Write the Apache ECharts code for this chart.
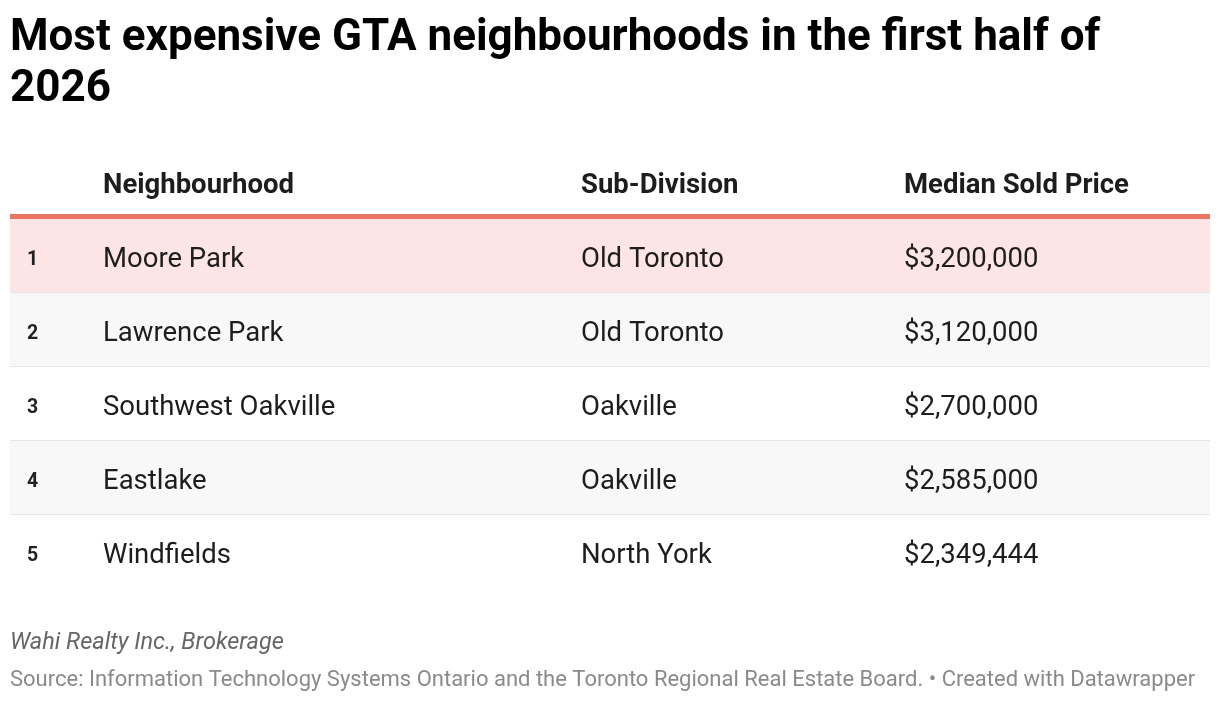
<!DOCTYPE html>
<html>
<head>
<meta charset="utf-8">
<script src="https://cdn.jsdelivr.net/npm/echarts@6/dist/echarts.min.js"></script>
<style>
  html, body { margin: 0; padding: 0; background: #fff; }
  #main { width: 1220px; height: 702px; }
</style>
</head>
<body>
<div id="main"></div>
<script>
var ranks = ['1', '2', '3', '4', '5'];
var neighbourhoods = ['Moore Park', 'Lawrence Park', 'Southwest Oakville', 'Eastlake', 'Windfields'];
var subDivisions = ['Old Toronto', 'Old Toronto', 'Oakville', 'Oakville', 'North York'];
var prices = ['$3,200,000', '$3,120,000', '$2,700,000', '$2,585,000', '$2,349,444'];
var headers = ['Neighbourhood', 'Sub-Division', 'Median Sold Price'];

var font = 'Roboto, "Noto Sans", sans-serif';
// column x positions in axis units (grid starts at x=10)
var colX = [17, 93, 571, 894];

var chart = echarts.init(document.getElementById('main'));

function rowColor(i) {
    if (i === 0) return '#fce5e4';       // highlighted top row
    return i % 2 === 1 ? '#f8f8f8' : '#ffffff';
}

var option = {
    animation: false,
    grid: { left: 10, right: 10, top: 219, height: 370 },
    xAxis: { type: 'value', min: 0, max: 1200, show: false },
    yAxis: { type: 'category', data: ranks, inverse: true, show: false },
    graphic: [
        { type: 'text', left: 10, top: 13, style: { text: 'Most expensive GTA neighbourhoods in the first half of\n2026', font: 'bold 44px ' + font, lineHeight: 51, fill: '#000' } },
        { type: 'rect', shape: { x: 10, y: 214, width: 1200, height: 5 }, style: { fill: '#ec7463' } },
        { type: 'text', x: 10 + colX[1], y: 186, style: { text: headers[0], font: 'bold 27.5px ' + font, fill: '#1d1d1d', verticalAlign: 'middle' } },
        { type: 'text', x: 10 + colX[2], y: 186, style: { text: headers[1], font: 'bold 27.5px ' + font, fill: '#1d1d1d', verticalAlign: 'middle' } },
        { type: 'text', x: 10 + colX[3], y: 186, style: { text: headers[2], font: 'bold 27.5px ' + font, fill: '#1d1d1d', verticalAlign: 'middle' } },
        { type: 'text', x: 10, y: 643, style: { text: 'Wahi Realty Inc., Brokerage', font: 'italic 23.5px ' + font, fill: '#666', verticalAlign: 'middle' } },
        { type: 'text', x: 10, y: 680, style: { text: 'Source: Information Technology Systems Ontario and the Toronto Regional Real Estate Board. \u2022 Created with Datawrapper', font: '22px ' + font, fill: '#8a8a8a', verticalAlign: 'middle' } }
    ],
    series: [{
        type: 'custom',
        coordinateSystem: 'cartesian2d',
        data: ranks.map(function (r, i) { return [0, i]; }),
        renderItem: function (params, api) {
            var i = api.value(1);
            var left = api.coord([0, i]);
            var right = api.coord([1200, i]);
            var h = api.size([0, 1])[1];
            var top = left[1] - h / 2;
            var cy = left[1] + 4;
            var children = [
                { type: 'rect', shape: { x: left[0], y: top, width: right[0] - left[0], height: h }, style: { fill: rowColor(i) } }
            ];
            if (i < ranks.length - 1) {
                children.push({ type: 'rect', shape: { x: left[0], y: top + h - 1, width: right[0] - left[0], height: 2 }, style: { fill: '#e6e6e6' } });
            }
            var px = function (v) { return api.coord([v, i])[0]; };
            children.push(
                { type: 'text', x: px(colX[0]), y: cy, style: { text: ranks[i], font: 'bold 19.5px ' + font, fill: '#222', verticalAlign: 'middle' } },
                { type: 'text', x: px(colX[1]), y: cy, style: { text: neighbourhoods[i], font: '27.5px ' + font, fill: '#1d1d1d', verticalAlign: 'middle' } },
                { type: 'text', x: px(colX[2]), y: cy, style: { text: subDivisions[i], font: '27.5px ' + font, fill: '#1d1d1d', verticalAlign: 'middle' } },
                { type: 'text', x: px(colX[3]), y: cy, style: { text: prices[i], font: '27.5px ' + font, fill: '#1d1d1d', verticalAlign: 'middle' } }
            );
            return { type: 'group', children: children };
        }
    }]
};

chart.setOption(option);
</script>
</body>
</html>
